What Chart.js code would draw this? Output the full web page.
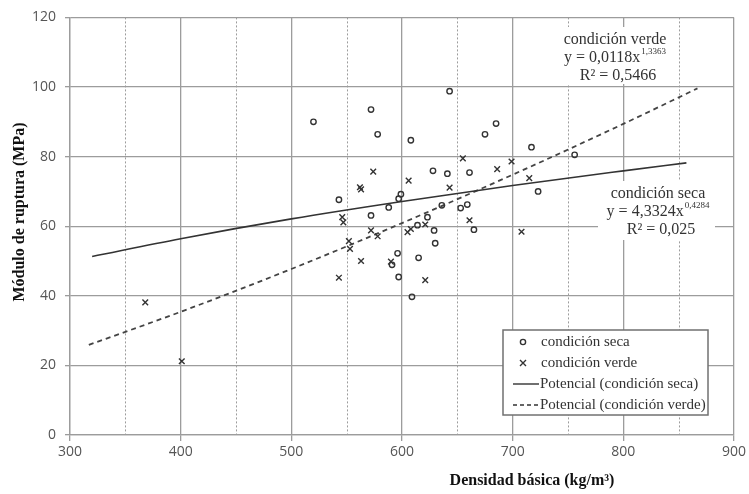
<!DOCTYPE html>
<html>
<head>
<meta charset="utf-8">
<title>Módulo de ruptura vs densidad básica</title>
<script src="https://cdn.jsdelivr.net/npm/chart.js@4.4.1/dist/chart.umd.min.js"></script>
<style>
  html, body { margin: 0; padding: 0; background: #fff; }
  #chart { display: block; }
</style>
</head>
<body>
<canvas id="chart" width="749" height="494"></canvas>
<script>
// Densidad básica (kg/m3) / módulo de ruptura (MPa)
const secaDensidad = [520, 572, 578, 608, 628, 599, 597, 543, 588, 572, 623, 614, 629, 630, 596, 591,
    615, 597, 609, 643, 685, 675, 717, 756, 641, 661, 723, 636, 653, 659, 665];
const secaMOR = [90.0, 93.5, 86.4, 84.7, 75.9, 69.2, 67.9, 67.6, 65.4, 63.1, 62.6, 60.3, 58.8, 55.1, 52.2, 48.9,
    50.9, 45.4, 39.7, 98.8, 89.5, 86.4, 82.7, 80.5, 75.1, 75.4, 70.0, 66.0, 65.2, 66.2, 59.0];

const verdeDensidad = [574, 606, 562, 563, 546, 547, 572, 578, 605, 608, 552, 553, 563, 590, 543, 621,
    621, 655, 699, 686, 715, 643, 661, 708, 368, 401];
const verdeMOR = [75.7, 73.1, 71.2, 70.6, 62.6, 61.1, 58.8, 57.1, 58.3, 59.2, 55.7, 53.5, 50.0, 49.8, 45.2, 44.5,
    60.5, 79.5, 78.6, 76.4, 73.8, 71.1, 61.7, 58.4, 38.1, 21.2];

// power trend lines, sampled off the figure
const potSecaX = [320, 400, 500, 600, 700, 800, 857];
const potSecaY = [51.3, 56.4, 62.1, 67.1, 71.7, 75.9, 78.2];
const potVerdeX = [317, 400, 500, 600, 700, 800, 867];
const potVerdeY = [25.9, 35.4, 47.7, 60.9, 74.8, 89.4, 99.6];

// axes
const xTicks = [300, 400, 500, 600, 700, 800, 900];
const xMinorGrid = [350, 450, 550, 650, 750, 850];
const yTicks = [0, 20, 40, 60, 80, 100, 120];

const legendLabels = ['condición seca', 'condición verde', 'Potencial (condición seca)', 'Potencial (condición verde)'];

const eqVerde = { name: 'condición verde', formula: 'y = 0,0118x', exp: '1,3363', r2: 'R² = 0,5466' };
const eqSeca = { name: 'condición seca', formula: 'y = 4,3324x', exp: '0,4284', r2: 'R² = 0,025' };

const gridColor = '#9c9c9c';
const inkColor = '#333333';
const serif = '"Liberation Serif", "DejaVu Serif", serif';

const pts = (xs, ys) => xs.map((x, i) => ({ x: x, y: ys[i] }));

function drawEquation(ctx, eq, box, cx, y0) {
    ctx.save();
    ctx.fillStyle = '#fff';
    ctx.fillRect(box[0], box[1], box[2], box[3]);
    ctx.fillStyle = inkColor;
    ctx.textBaseline = 'middle';
    ctx.font = '16px ' + serif;
    ctx.textAlign = 'center';
    ctx.fillText(eq.name, cx, y0);

    const wBase = ctx.measureText(eq.formula).width;
    ctx.font = '9px ' + serif;
    const wSup = ctx.measureText(eq.exp).width;
    const left = cx - (wBase + wSup + 1) / 2;
    ctx.textAlign = 'left';
    ctx.font = '16px ' + serif;
    ctx.fillText(eq.formula, left, y0 + 18);
    ctx.font = '9px ' + serif;
    ctx.fillText(eq.exp, left + wBase + 1, y0 + 12);

    ctx.font = '16px ' + serif;
    ctx.textAlign = 'center';
    ctx.fillText(eq.r2, cx + 3, y0 + 36);
    ctx.restore();
}

function drawLegend(ctx) {
    const bx = 503, by = 330, bw = 205, bh = 85;
    ctx.save();
    ctx.fillStyle = '#fff';
    ctx.fillRect(bx, by, bw, bh);
    ctx.strokeStyle = '#707070';
    ctx.lineWidth = 1.5;
    ctx.strokeRect(bx, by, bw, bh);

    const rows = [342, 363, 384, 405];
    ctx.strokeStyle = inkColor;
    // circle
    ctx.lineWidth = 1.4;
    ctx.beginPath();
    ctx.arc(523, rows[0], 2.6, 0, Math.PI * 2);
    ctx.stroke();
    // cross
    ctx.beginPath();
    ctx.moveTo(520, rows[1] - 3); ctx.lineTo(526, rows[1] + 3);
    ctx.moveTo(526, rows[1] - 3); ctx.lineTo(520, rows[1] + 3);
    ctx.stroke();
    // solid line
    ctx.lineWidth = 1.4;
    ctx.beginPath();
    ctx.moveTo(513, rows[2]); ctx.lineTo(539, rows[2]);
    ctx.stroke();
    // dashed line
    ctx.setLineDash([4, 3]);
    ctx.lineWidth = 1.6;
    ctx.beginPath();
    ctx.moveTo(513, rows[3]); ctx.lineTo(539, rows[3]);
    ctx.stroke();
    ctx.setLineDash([]);

    ctx.fillStyle = inkColor;
    ctx.font = '15px ' + serif;
    ctx.textBaseline = 'middle';
    ctx.textAlign = 'left';
    ctx.fillText(legendLabels[0], 541, rows[0]);
    ctx.fillText(legendLabels[1], 541, rows[1]);
    ctx.fillText(legendLabels[2], 540, rows[2]);
    ctx.fillText(legendLabels[3], 540, rows[3]);
    ctx.restore();
}

const decor = {
    id: 'decor',
    beforeDraw(chart) {
        const ctx = chart.ctx;
        ctx.save();
        ctx.fillStyle = '#fff';
        ctx.fillRect(0, 0, chart.width, chart.height);
        ctx.restore();
    },
    beforeDatasetsDraw(chart) {
        const { ctx, chartArea, scales } = chart;
        ctx.save();
        ctx.strokeStyle = gridColor;
        ctx.lineWidth = 1;
        ctx.setLineDash([2, 2]);
        xMinorGrid.forEach(v => {
            const px = Math.round(scales.x.getPixelForValue(v)) + 0.5;
            ctx.beginPath();
            ctx.moveTo(px, chartArea.top);
            ctx.lineTo(px, chartArea.bottom);
            ctx.stroke();
        });
        ctx.restore();

        drawEquation(ctx, eqVerde, [553, 27, 126, 57], 615, 40);
        drawEquation(ctx, eqSeca, [598, 181, 117, 59], 658, 194);
    },
    afterDraw(chart) {
        const ctx = chart.ctx;
        drawLegend(ctx);

        // axis titles
        ctx.save();
        ctx.fillStyle = '#111';
        ctx.font = 'bold 16px ' + serif;
        ctx.textAlign = 'center';
        ctx.textBaseline = 'middle';
        ctx.fillText('Densidad básica (kg/m³)', 532, 481);
        ctx.translate(20, 212);
        ctx.rotate(-Math.PI / 2);
        ctx.fillText('Módulo de ruptura (MPa)', 0, 0);
        ctx.restore();
    }
};

new Chart(document.getElementById('chart'), {
    type: 'scatter',
    data: {
        datasets: [
            {
                label: legendLabels[0],
                data: pts(secaDensidad, secaMOR),
                pointStyle: 'circle',
                pointRadius: 2.7,
                borderColor: inkColor,
                backgroundColor: 'rgba(0,0,0,0)',
                borderWidth: 1.4
            },
            {
                label: legendLabels[1],
                data: pts(verdeDensidad, verdeMOR),
                pointStyle: 'crossRot',
                pointRadius: 4,
                borderColor: inkColor,
                backgroundColor: inkColor,
                borderWidth: 1.4
            },
            {
                label: legendLabels[2],
                data: pts(potSecaX, potSecaY),
                showLine: true,
                pointRadius: 0,
                borderColor: inkColor,
                borderWidth: 1.6,
                cubicInterpolationMode: 'monotone'
            },
            {
                label: legendLabels[3],
                data: pts(potVerdeX, potVerdeY),
                showLine: true,
                pointRadius: 0,
                borderColor: '#444444',
                borderWidth: 1.8,
                borderDash: [5, 4],
                cubicInterpolationMode: 'monotone'
            }
        ]
    },
    options: {
        responsive: false,
        animation: false,
        devicePixelRatio: 1,
        layout: { padding: { left: 0, top: 15, right: 13, bottom: 0 } },
        plugins: {
            legend: { display: false },
            tooltip: { enabled: false }
        },
        scales: {
            x: {
                type: 'linear',
                min: 300,
                max: 900,
                afterBuildTicks: s => { s.ticks = xTicks.map(v => ({ value: v })); },
                afterFit: s => { s.height = 59; },
                grid: { color: gridColor, lineWidth: 1.3, tickLength: 6, tickColor: gridColor },
                border: { color: gridColor, width: 1.3 },
                ticks: {
                    color: '#555555',
                    font: { family: 'Open Sans', size: 14 },
                    padding: 3,
                    maxRotation: 0,
                    autoSkip: false
                }
            },
            y: {
                type: 'linear',
                min: 0,
                max: 120,
                afterBuildTicks: s => { s.ticks = yTicks.map(v => ({ value: v })); },
                afterFit: s => { s.width = 70; },
                grid: { color: gridColor, lineWidth: 1.3, tickLength: 5, tickColor: gridColor },
                border: { color: gridColor, width: 1.3 },
                ticks: {
                    color: '#555555',
                    font: { family: 'Open Sans', size: 14 },
                    padding: 9,
                    autoSkip: false
                }
            }
        }
    },
    plugins: [decor]
});
</script>
</body>
</html>
